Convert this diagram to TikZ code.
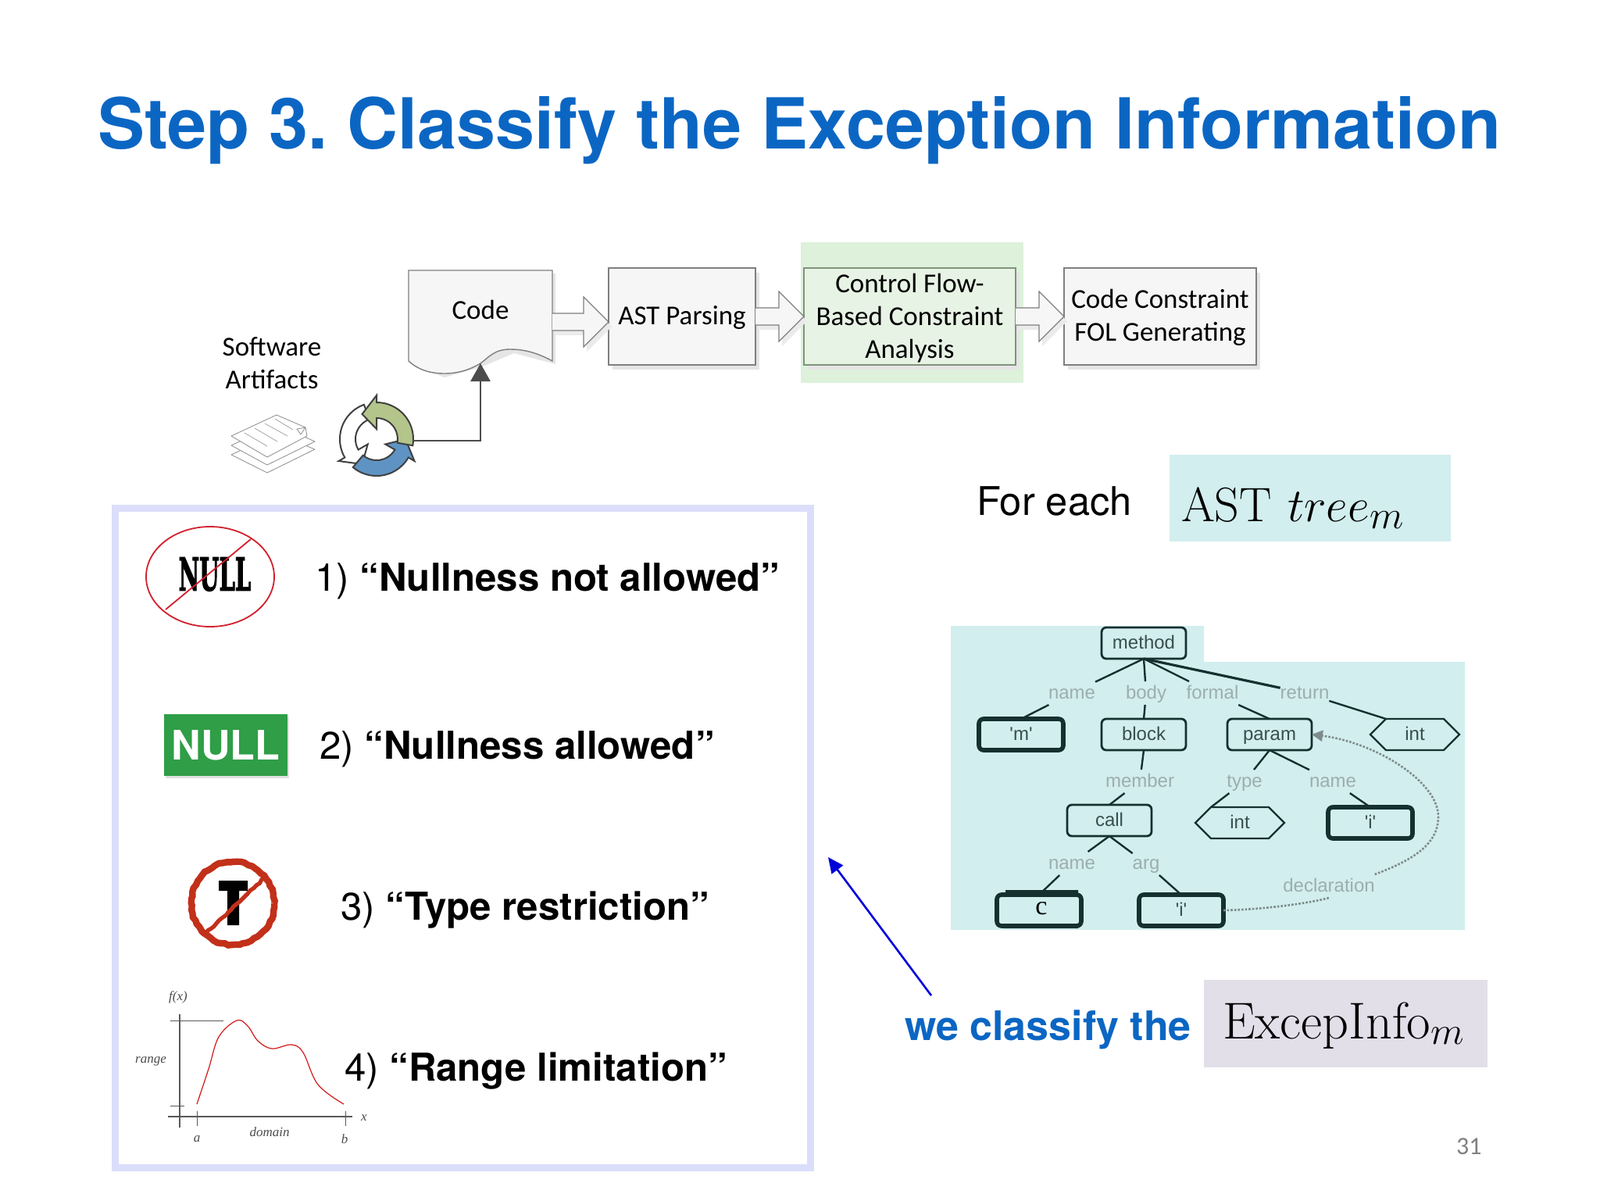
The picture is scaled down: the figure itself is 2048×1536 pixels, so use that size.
\documentclass[tikz,border=0pt]{standalone}
\usepackage{fontspec}
\usepackage{graphicx}
\newfontfamily\heros{TeX Gyre Heros}
\newfontfamily\lib{Liberation Sans}
\newfontfamily\carl{Carlito}
\newfontfamily\libserif{Liberation Serif}
\newfontfamily\slab[BoldFeatures={FakeBold=2.5}]{DejaVu Serif}
\usetikzlibrary{calc,arrows.meta,shapes.symbols,decorations.pathmorphing}
\newcommand{\fs}[1]{\fontsize{#1}{#1}\selectfont}
\newcommand{\lowerline}{\rule{0pt}{14pt}}
\frenchspacing
\definecolor{titleblue}{HTML}{0B66C3}
\definecolor{treebg}{HTML}{D2EEEE}
\definecolor{treeink}{HTML}{16302F}
\definecolor{treelabel}{HTML}{9DAEAE}
\definecolor{panelborder}{HTML}{DADEFA}
\definecolor{boxline}{HTML}{7F7F7F}
\definecolor{boxfill}{HTML}{F6F6F7}
\definecolor{hl}{HTML}{DDF1DB}
\definecolor{hlbox}{HTML}{E7F3E4}
\definecolor{hlline}{HTML}{7F947A}
\definecolor{nored}{HTML}{D2202E}
\definecolor{rustred}{HTML}{C2301A}
\definecolor{nullgreen}{HTML}{2F9E47}
\definecolor{cycgreen}{HTML}{B3C58A}
\definecolor{cycblue}{HTML}{5F93C4}
\definecolor{excepbg}{HTML}{E2DFE9}
\tikzset{
  x=0.5pt,y=-0.5pt,
  txt/.style={anchor=base west,inner sep=0pt,outer sep=0pt},
  flowbox/.style={draw=boxline,fill=boxfill,line width=0.7pt,inner sep=0pt,outer sep=0pt,align=center,
    font=\carl\fontsize{17.5}{21}\selectfont,
    preaction={draw=none,fill=black!10,transform canvas={shift={(2.5pt,-3pt)}}}},
  barrow/.style={draw=boxline,fill=boxfill,line width=0.6pt,line join=miter,
    preaction={draw=none,fill=black!8,transform canvas={shift={(2pt,-3pt)}}}},
  treebox/.style={draw=treeink,rounded corners=3pt,line width=1.4pt,minimum width=54pt,minimum height=20pt,
    inner sep=0pt,outer sep=0pt,font=\lib\fs{12},text=treeink!85,text height=9pt,text depth=2pt},
  leafbox/.style={treebox,line width=2.8pt},
  hexnode/.style={draw=treeink,line width=1.2pt,shape=signal,signal to=west and east,signal pointer angle=90,
    minimum width=57pt,minimum height=20pt,inner sep=0pt,outer sep=0pt,font=\lib\fs{12},text=treeink!85,text height=9pt,text depth=2pt},
  edgelabel/.style={inner sep=0pt,outer sep=0pt,minimum height=15pt,font=\lib\fs{12},text=treelabel,text height=9pt,text depth=2pt},
  treeedge/.style={draw=treeink,line width=1.2pt},
  itemtext/.style={txt,font=\heros\fs{24.6}},
  graphlabel/.style={inner sep=0pt,font=\libserif\itshape\fs{8.5},text=black!70},
  axis/.style={draw=black!65,line width=0.6pt},
  sheet/.style={draw=black!45,fill=white,line width=0.4pt,line join=round},
  cyc/.style={draw=black!75,line width=1pt,line join=miter}
}
\newcommand{\blockarrow}[2]{\draw[barrow] let \p1=(#1),\p2=(#2) in
  (\x1,\y1+5.5pt) -- (\x2-16pt,\y1+5.5pt) -- (\x2-16pt,\y1+16pt) -- (\x2,\y1) --
  (\x2-16pt,\y1-16pt) -- (\x2-16pt,\y1-5.5pt) -- (\x1,\y1-5.5pt);}
\newcommand{\cycarrow}[3]{\draw[cyc,fill=#1]
  (#2:47) arc[start angle=#2,end angle=#3,radius=47] -- (#3:56) -- ({#3+30}:37) -- (#3:13) -- (#3:27)
  arc[start angle=#3,end angle=#2,radius=27] -- cycle;}
\begin{document}
\begin{tikzpicture}
\useasboundingbox (0,0) rectangle (2048,1536);
\fill[white] (0,0) rectangle (2048,1536);

% title
\node[txt,font=\heros\bfseries\fs{45},text=titleblue] (title) at (125,190) {Step 3. Classify the Exception Information};

% flow
\fill[hl] (1025,310) rectangle (1310,490);
\draw[draw=none,fill=black!10] (526,350) -- (711,350) -- (711,466) -- (658,452) -- (615,470) -- (569,483) -- (526,466) -- cycle;
\draw[draw=boxline,fill=boxfill,line width=0.7pt] (523,346) -- (707,346) -- (707,462)
  .. controls (685,450) and (668,447) .. (653,447) .. controls (632,447) and (625,458) .. (615,465)
  .. controls (600,474) and (585,478) .. (569,478) .. controls (550,478) and (535,473) .. (523,462) -- cycle;
\node[inner sep=0pt,outer sep=0pt,minimum width=92pt,minimum height=66pt] (code) at (615,412) {};
\node[inner sep=0pt,font=\carl\fs{17.5}] (codetext) at (615,396) {Code};
\coordinate (codewave) at (615,465);
\node[flowbox,minimum width=94pt,minimum height=62pt] (ast) at (873,405) {\lowerline AST Parsing};
\node[flowbox,fill=hlbox,draw=hlline,minimum width=135.5pt,minimum height=62pt] (cfa) at (1164.5,405) {\lowerline Control Flow-\\Based Constraint\\Analysis};
\node[flowbox,minimum width=123pt,minimum height=62pt] (fol) at (1485,405) {\lowerline Code Constraint\\FOL Generating};
\blockarrow{code.east}{ast.west |- code.east}
\blockarrow{ast.east}{cfa.west}
\blockarrow{cfa.east}{fol.west}
\node[inner sep=0pt,align=center,font=\carl\fontsize{17.5}{21}\selectfont] (soft) at (348,465) {Software\\Artifacts};

% documents icon
\draw[sheet] (296,582) -- (354,555) -- (403,575) -- (342,605) -- cycle;
\draw[sheet] (296,570) -- (354,543) -- (403,565) -- (342,595) -- cycle;
\draw[sheet] (296,558) -- (354,531) -- (391,547) -- (393,558) -- (342,585) -- cycle;
\draw[black!35,line width=0.4pt] (313,554) -- (342,571) (326,548) -- (355,565) (339,542) -- (368,558) (352,536) -- (375,550);
\draw[sheet] (391,547) -- (380,549) -- (385,556) -- cycle;

% cycle icon
\begin{scope}[shift={(482,562)},x=0.5pt,y=0.5pt]
  \cycarrow{white}{110}{210}
  \cycarrow{cycblue}{230}{330}
  \cycarrow{cycgreen}{-10}{90}
\end{scope}
\node[circle,inner sep=0pt,outer sep=0pt,minimum size=47pt] (iconc) at (482,564) {};
\draw[draw=black!70,line width=1.4pt,-{Triangle[length=11.5pt,width=12.5pt]}] (iconc.east) -| (codewave);

% left panel
\draw[draw=panelborder,line width=4.5pt,fill=white] (147,650) rectangle (1037,1494);

% no null
\node[inner sep=0pt,font=\slab\bfseries\fs{29},text=black] (nonull) at (275,735) {\scalebox{0.5}[1]{NULL}};
\draw[draw=nored,line width=0.9pt] (269,738) ellipse [x radius=82,y radius=64];
\draw[draw=nored,line width=0.9pt] (212,780) -- (321,690);
\node[itemtext] (item1) at (403,756) {1) \textbf{“Nullness not allowed”}};

% green null
\node[fill=nullgreen,minimum width=79pt,minimum height=39.5pt,inner sep=0pt,font=\heros\bfseries\fs{26},text=white,
  preaction={draw=none,fill=black!12,transform canvas={shift={(1pt,-1.5pt)}}}] (gnull) at (289,953.5) {NULL};
\node[itemtext] (item2) at (409,971) {2) \textbf{“Nullness allowed”}};

% no T
\fill[black] (280,1127) -- (317,1127) -- (317,1140) -- (306,1140) -- (306,1184) -- (291,1184) -- (291,1140) -- (280,1140) -- cycle;
\draw[draw=rustred,line width=4.2pt,decorate,decoration={random steps,segment length=2.5pt,amplitude=0.5pt}] (298,1156) circle [radius=53];
\draw[draw=rustred,line width=2.6pt,decorate,decoration={random steps,segment length=2.5pt,amplitude=0.5pt}] (263,1195) -- (340,1122);
\node[itemtext] (item3) at (436,1177) {3) \textbf{“Type restriction”}};

% graph
\draw[axis] (230,1298) -- (230,1443);
\draw[axis] (215,1429) -- (451,1429);
\draw[axis,line width=0.4pt] (218,1306) -- (286,1306) (218,1415) -- (236,1415) (252,1422) -- (252,1441) (442,1422) -- (442,1441);
\draw[draw=red!80!black!90,line width=0.6pt] plot[smooth,tension=0.6] coordinates {(252,1413) (267,1368) (280,1327) (303,1306) (317,1313) (330,1332) (348,1342) (373,1337) (388,1347) (407,1388) (440,1413)};
\node[graphlabel] (gf) at (228,1276) {f(x)};
\node[graphlabel] (gr) at (193,1358) {range};
\node[graphlabel] (gx) at (466,1431) {x};
\node[graphlabel] (ga) at (252,1458) {a};
\node[graphlabel] (gd) at (345,1449) {domain};
\node[graphlabel] (gb) at (441,1458) {b};
\node[itemtext] (item4) at (441,1383) {4) \textbf{“Range limitation”}};

% for each
\node[txt,font=\heros\fs{25.3}] (foreach) at (1250,659) {For each};
\fill[treebg] (1497,582) rectangle (1857,693);
\node[txt,font=\fs{31},text=black] (asttree) at (1512,667) {AST\hspace{10pt}\scalebox{1.22}{$tree_m$}};

% tree
\fill[treebg] (1217,801) -- (1541,801) -- (1541,847) -- (1875,847) -- (1875,1190) -- (1217,1190) -- cycle;
\node[treebox] (method) at (1464,823) {method};
\node[leafbox] (m) at (1307,940) {'m'};
\node[treebox] (block) at (1464,940) {block};
\node[treebox] (param) at (1625,940) {param};
\node[hexnode] (inta) at (1811,940) {int};
\node[treebox] (call) at (1420,1050) {call};
\node[hexnode] (intb) at (1587,1053) {int};
\node[leafbox] (ia) at (1754,1053) {'i'};
\node[leafbox] (c) at (1330,1165) {};
\fill[treeink] (1287,1139) rectangle (1380,1147) (1285,1182) rectangle (1380,1188);
\node[inner sep=0pt,font=\libserif\fs{17},text=black] (ctext) at (1333,1163) {c};
\node[leafbox] (ib) at (1512,1165) {'i'};
\node[edgelabel] (n1) at (1372,887) {name};
\node[edgelabel] (n2) at (1467,887) {body};
\node[edgelabel] (n3) at (1552,887) {formal};
\node[edgelabel] (n4) at (1670,887) {return};
\node[edgelabel] (n5) at (1459,1000) {member};
\node[edgelabel] (n6) at (1593,1000) {type};
\node[edgelabel] (n7) at (1706,1000) {name};
\node[edgelabel] (n8) at (1372,1105) {name};
\node[edgelabel] (n9) at (1467,1105) {arg};
\node[edgelabel] (decl) at (1701,1134) {declaration};
\draw[treeedge] (method.south) -- (n1);
\draw[treeedge] (method.south) -- (n2);
\draw[treeedge] (method.south) -- (n3);
\draw[treeedge,line width=1.6pt] (method.south) -- (n4);
\draw[treeedge] (n1) -- (m.north);
\draw[treeedge] (n2) -- (block.north);
\draw[treeedge] (n3) -- (param.north);
\draw[treeedge] (n4) -- (inta.north west);
\draw[treeedge] (block.south) -- (n5);
\draw[treeedge] (n5) -- (call.north);
\draw[treeedge] (param.south) -- (n6);
\draw[treeedge] (param.south) -- (n7);
\draw[treeedge] (n6) -- (intb.north west);
\draw[treeedge] (n7) -- (ia.north);
\draw[treeedge] (call.south) -- (n8);
\draw[treeedge] (call.south) -- (n9);
\draw[treeedge] (n8) -- (c.north);
\draw[treeedge] (n9) -- (ib.north);
\draw[draw=treelabel!80!black,line width=1.3pt,densely dotted] (ib.east) .. controls (1620,1164) and (1680,1155) .. (decl.south);
\draw[draw=treelabel!80!black,line width=1.3pt,densely dotted,-{Triangle[length=7pt,width=7pt]}] (decl.north east) .. controls (1810,1100) and (1841,1080) .. (1841,1045) .. controls (1841,1000) and (1760,950) .. (param.east);

% classify
\node[txt,font=\heros\bfseries\fs{26},text=titleblue] (classify) at (1158,1331) {we classify the};
\fill[excepbg] (1541,1254) rectangle (1904,1366);
\node[txt,font=\fs{33.2},text=black] (excep) at (1565,1329) {ExcepInfo$_m$};
\coordinate (arrowfrom) at (1192,1274);
\coordinate (arrowto) at (1060,1097);
\draw[draw=blue!85!black,line width=1.3pt,-{Triangle[length=10pt,width=9pt]}] (arrowfrom) -- (arrowto);

\node[txt,font=\carl\fs{16},text=black!50] (pagenum) at (1864,1477) {31};
\end{tikzpicture}
\end{document}
